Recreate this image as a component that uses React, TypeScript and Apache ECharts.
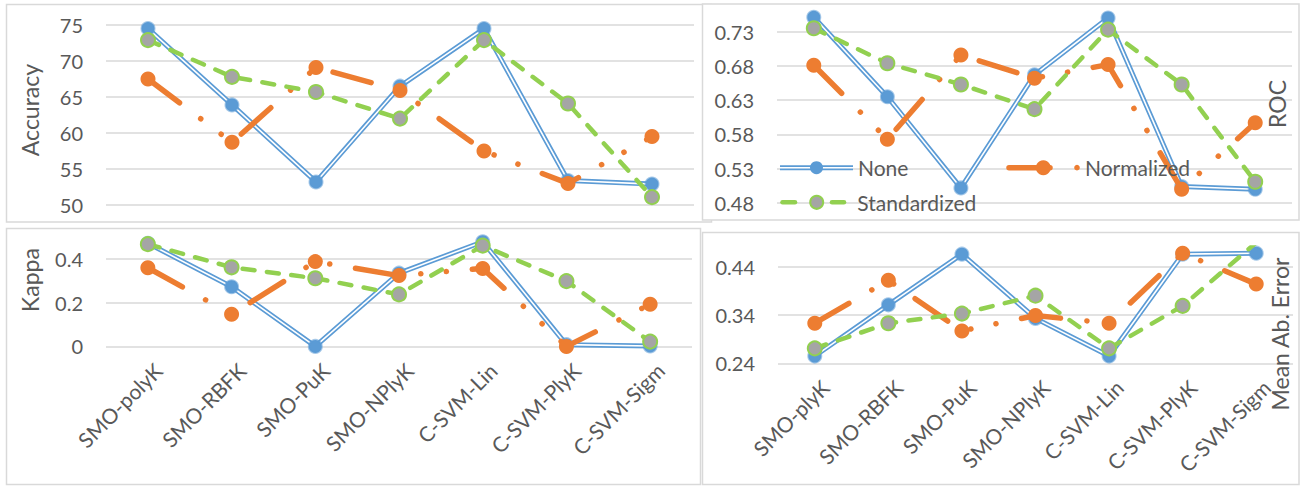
import React, { useEffect, useRef } from "react";
import * as echarts from "echarts";

// Classifier names (the MAE panel spells the first one "SMO-plyK")
const classifiersLeft = ["SMO-polyK", "SMO-RBFK", "SMO-PuK", "SMO-NPlyK", "C-SVM-Lin", "C-SVM-PlyK", "C-SVM-Sigm"];
const classifiersRight = ["SMO-plyK", "SMO-RBFK", "SMO-PuK", "SMO-NPlyK", "C-SVM-Lin", "C-SVM-PlyK", "C-SVM-Sigm"];

const seriesNames = ["None", "Normalized", "Standardized"];

// Accuracy (%)
const accuracyNone = [74.5, 63.9, 53.2, 66.5, 74.5, 53.4, 52.9];
const accuracyNormalized = [67.5, 58.7, 69.1, 65.9, 57.5, 53.0, 59.5];
const accuracyStandardized = [72.9, 67.8, 65.7, 62.0, 72.9, 64.1, 51.1];

// ROC area
const rocNone = [0.751, 0.635, 0.502, 0.667, 0.75, 0.504, 0.5];
const rocNormalized = [0.681, 0.573, 0.696, 0.662, 0.682, 0.5, 0.597];
const rocStandardized = [0.735, 0.684, 0.653, 0.617, 0.733, 0.653, 0.511];

// Kappa statistic
const kappaNone = [0.472, 0.273, 0.0, 0.335, 0.479, 0.008, 0.002];
const kappaNormalized = [0.36, 0.147, 0.388, 0.324, 0.357, 0.0, 0.193];
const kappaStandardized = [0.468, 0.362, 0.312, 0.238, 0.461, 0.299, 0.022];

// Mean absolute error
const maeNone = [0.255, 0.361, 0.466, 0.333, 0.255, 0.466, 0.468];
const maeNormalized = [0.323, 0.412, 0.307, 0.339, 0.323, 0.468, 0.404];
const maeStandardized = [0.271, 0.323, 0.343, 0.38, 0.271, 0.359, 0.49];

const BLUE = "#5B9BD5";
const ORANGE = "#ED7D31";
const GREEN = "#92D050";
const GRAY = "#A5A5A5";
const TEXT = "#595959";
const GRID = "#D9D9D9";
const FONT = "Lato";

const ORANGE_DASH = [39.5, 26.5, 0.1, 25.5, 0.1, 26];
const GREEN_DASH = [12, 12.5];

function buildSeries(gi: number, none: number[], norm: number[], std: number[], clip: boolean) {
  const base = { type: "line", xAxisIndex: gi, yAxisIndex: gi, clip, silent: true };
  return [
    { ...base, name: seriesNames[0], z: 2, data: none, symbol: "none", lineStyle: { color: BLUE, width: 5 } },
    {
      ...base, name: seriesNames[0], z: 2, data: none, symbol: "circle", symbolSize: 13,
      lineStyle: { color: "#FFFFFF", width: 1.6 },
      itemStyle: { color: BLUE, borderColor: "rgba(91,155,213,0.55)", borderWidth: 2 },
    },
    {
      ...base, name: seriesNames[1], z: 3, data: norm, symbol: "circle", symbolSize: 15,
      lineStyle: { color: ORANGE, width: 5.5, type: ORANGE_DASH, cap: "round" },
      itemStyle: { color: ORANGE },
    },
    {
      ...base, name: seriesNames[2], z: 4, data: std, symbol: "circle", symbolSize: 14,
      lineStyle: { color: GREEN, width: 4.5, type: GREEN_DASH, cap: "round" },
      itemStyle: { color: GRAY, borderColor: GREEN, borderWidth: 2 },
    },
  ];
}

function catAxis(gi: number, cats: string[], showLabels: boolean) {
  return {
    type: "category", gridIndex: gi, data: cats, boundaryGap: true,
    axisLine: { show: false }, axisTick: { show: false },
    axisLabel: {
      show: showLabels, rotate: 45, margin: 10, fontSize: 21, color: TEXT, fontFamily: FONT,
      interval: 0, verticalAlign: "top", padding: [4, 0, 0, 0],
    },
  };
}

function valAxis(gi: number, min: number, max: number, interval: number, lineColors: string | string[]) {
  return {
    type: "value", gridIndex: gi, min, max, interval,
    axisLine: { show: false }, axisTick: { show: false },
    axisLabel: { margin: 23, fontSize: 20, color: TEXT, fontFamily: FONT, showMaxLabel: Array.isArray(lineColors) ? false : true },
    splitLine: { show: true, lineStyle: { color: lineColors, width: 1.5 } },
  };
}

function panel(x: number, y: number, w: number, h: number) {
  return {
    type: "rect", z: -10, silent: true,
    shape: { x, y, width: w, height: h },
    style: { fill: "#FFFFFF", stroke: GRID, lineWidth: 1.5 },
  };
}

function title(text: string, x: number, y: number) {
  return {
    type: "text", x, y, rotation: Math.PI / 2, z: 20, silent: true,
    style: { text, fill: TEXT, font: `23px ${FONT}`, align: "center", verticalAlign: "middle" },
  };
}

function legendGraphics() {
  const y1 = 167.7;
  const y2 = 202.3;
  const textStyle = (text: string, x: number, y: number) => ({
    type: "text", x, y, z: 20, silent: true,
    style: { text, fill: TEXT, font: `21px ${FONT}`, align: "left", verticalAlign: "middle" },
  });
  return [
    { type: "line", z: 20, shape: { x1: 780, y1, x2: 853, y2: y1 }, style: { stroke: BLUE, lineWidth: 5 } },
    { type: "line", z: 20, shape: { x1: 780, y1, x2: 853, y2: y1 }, style: { stroke: "#FFFFFF", lineWidth: 1.6 } },
    { type: "circle", z: 20, shape: { cx: 816.5, cy: y1, r: 6.5 }, style: { fill: BLUE } },
    textStyle(seriesNames[0], 858, y1),

    { type: "line", z: 20, shape: { x1: 1009, y1, x2: 1050, y2: y1 }, style: { stroke: ORANGE, lineWidth: 5.5, lineCap: "round" } },
    { type: "circle", z: 20, shape: { cx: 1043.3, cy: y1, r: 7.5 }, style: { fill: ORANGE } },
    { type: "circle", z: 20, shape: { cx: 1077, cy: y1, r: 2.8 }, style: { fill: ORANGE } },
    textStyle(seriesNames[1], 1085, y1),

    { type: "line", z: 20, shape: { x1: 782.5, y1: y2, x2: 795, y2 }, style: { stroke: GREEN, lineWidth: 4.5, lineCap: "round" } },
    { type: "line", z: 20, shape: { x1: 832, y1: y2, x2: 844, y2 }, style: { stroke: GREEN, lineWidth: 4.5, lineCap: "round" } },
    { type: "circle", z: 20, shape: { cx: 816.7, cy: y2, r: 6.5 }, style: { fill: GRAY, stroke: GREEN, lineWidth: 2 } },
    textStyle(seriesNames[2], 857.3, y2),
  ];
}

export default function App() {
  const ref = useRef<HTMLDivElement>(null);

  useEffect(() => {
    if (!ref.current) return;
    const chart = echarts.init(ref.current, undefined, { renderer: "svg" });
    const maeLines = [GRID, GRID, GRID, "rgba(0,0,0,0)"];
    chart.setOption({
      animation: false,
      backgroundColor: "#FFFFFF",
      textStyle: { fontFamily: FONT, color: TEXT },
      grid: [
        { left: 106, top: 25, width: 588, height: 180, outerBoundsMode: "none" },
        { left: 777, top: 31.7, width: 515, height: 171.3, outerBoundsMode: "none" },
        { left: 106, top: 259, width: 586, height: 87.4, outerBoundsMode: "none" },
        { left: 778, top: 247.4, width: 515, height: 115.9, outerBoundsMode: "none" },
      ],
      xAxis: [
        catAxis(0, classifiersLeft, false),
        catAxis(1, classifiersRight, false),
        catAxis(2, classifiersLeft, true),
        catAxis(3, classifiersRight, true),
      ],
      yAxis: [
        valAxis(0, 50, 75, 5, GRID),
        valAxis(1, 0.48, 0.73, 0.05, GRID),
        valAxis(2, 0, 0.4, 0.2, GRID),
        valAxis(3, 0.24, 0.48, 0.1, maeLines),
      ],
      series: [
        ...buildSeries(0, accuracyNone, accuracyNormalized, accuracyStandardized, false),
        ...buildSeries(1, rocNone, rocNormalized, rocStandardized, false),
        ...buildSeries(2, kappaNone, kappaNormalized, kappaStandardized, false),
        ...buildSeries(3, maeNone, maeNormalized, maeStandardized, true),
      ],
      graphic: [
        panel(6.5, 4.5, 705, 217.5),
        panel(6.5, 228.5, 694, 256),
        panel(702.5, 4, 596.5, 216),
        panel(702.5, 232.5, 596.5, 252),
        title("Accuracy", 30, 110),
        title("Kappa", 30, 280),
        title("ROC", 1277, 104),
        title("Mean Ab. Error", 1280, 334),
        ...legendGraphics(),
      ],
    });
    return () => chart.dispose();
  }, []);

  return <div ref={ref} style={{ position: "absolute", left: 0, top: 0, width: 1305, height: 486 }} />;
}
